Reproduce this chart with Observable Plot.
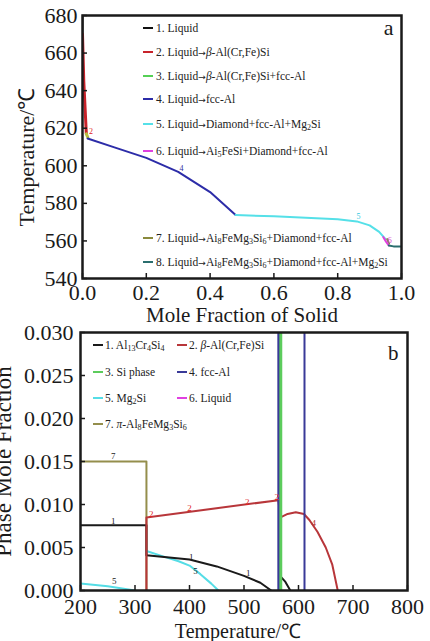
<!DOCTYPE html>
<html><head><meta charset="utf-8">
<script src="https://cdn.jsdelivr.net/npm/d3@7"></script>
<script src="https://cdn.jsdelivr.net/npm/@observablehq/plot@0.6"></script>
<style>
html,body{margin:0;padding:0;background:#fff;overflow:hidden;}
#wrap{position:relative;width:430px;height:641px;overflow:hidden;font-family:"Liberation Serif","Times New Roman",serif;color:#1a1a1a;}
#wrap svg{position:absolute;left:0;overflow:visible;background:transparent;}
.lg{position:absolute;font-size:11.5px;white-space:nowrap;line-height:12px;height:12px;color:#222;}
.sw{position:absolute;height:2px;width:10px;}
.ar{font-family:"DejaVu Sans",sans-serif;font-size:0.8em;}
sub{font-size:0.7em;vertical-align:-0.25em;line-height:0;}
</style></head>
<body><div id="wrap"></div>
<script>
// ---------- Panel a: Temperature (°C) vs mole fraction of solid ----------
const aLiquid      = [[0,680],[0,670]];
const aBeta        = [[0,670],[0.004,645],[0.012,617]];
const aBetaFcc     = [[0.012,617],[0.017,615]];
const aFcc         = [[0.016,614.5],[0.1,609.8],[0.2,604.2],[0.3,596.8],[0.4,586],[0.48,573.8]];
const aDiaMg2Si    = [[0.48,573.8],[0.6,573.1],[0.7,572.4],[0.8,571.5],[0.86,570.4],[0.9,568.3],[0.93,564.8],[0.95,561]];
const aAl5FeSi     = [[0.943,562],[0.952,559.5],[0.96,557.6]];
const aAl8FeDia    = [[0.955,561],[0.961,558.6]];
const aAl8FeDiaMg  = [[0.96,557.6],[0.975,557.1],[1.0,557]];
const aXTicks = [0,0.2,0.4,0.6,0.8,1.0];
const aYTicks = [540,560,580,600,620,640,660,680];
const aCurveLabels = [[0.027,618.5,"2","#e02020"],[0.31,598.5,"4","#3030a0"],[0.865,573.2,"5","#30c8e0"],[0.963,560.5,"6","#d040d0"]];
const ARROW = '<span class="ar">→</span>';
const aLegend = [
  "1. Liquid",
  "2. Liquid" + ARROW + "<i>β</i>-Al(Cr,Fe)Si",
  "3. Liquid" + ARROW + "<i>β</i>-Al(Cr,Fe)Si+fcc-Al",
  "4. Liquid" + ARROW + "fcc-Al",
  "5. Liquid" + ARROW + "Diamond+fcc-Al+Mg<sub>2</sub>Si",
  "6. Liquid" + ARROW + "Ai<sub>5</sub>FeSi+Diamond+fcc-Al",
  "7. Liquid" + ARROW + "Ai<sub>8</sub>FeMg<sub>3</sub>Si<sub>6</sub>+Diamond+fcc-Al",
  "8. Liquid" + ARROW + "Ai<sub>8</sub>FeMg<sub>3</sub>Si<sub>6</sub>+Diamond+fcc-Al+Mg<sub>2</sub>Si"
];
const aColors = ["#111111","#c8232b","#55d055","#2c2ca8","#55e0e8","#e040e0","#8a8a3c","#2a6e6e"];

// ---------- Panel b: Phase mole fraction vs temperature (°C) ----------
const bAl13Cr4Si4  = [[200,0.0076],[321,0.0076],[321,0.0041],[400,0.0036],[450,0.0028],[500,0.0017],[530,0.0009],[550,0]];
const bAl13Cr4Si4b = [[564,0],[569,0.0015],[576,0.001],[585,0]];
const bBeta        = [[321,0],[321,0.0085],[563,0.0105],[567,0.0085],[580,0.0089],[595,0.0091],[610,0.0089],[620,0.0082],[635,0.0068],[650,0.005],[662,0.003],[672,0]];
const bSi          = [[567,0],[567,0.05]];
const bFcc         = [[611,0],[611,0.05]];
const bFcc2        = [[563,0],[563,0.05]];
const bMg2Si       = [[200,0.0008],[250,0.0005],[300,0]];
const bMg2Sib      = [[321,0.0046],[350,0.004],[380,0.0034],[400,0.0029],[420,0.0019],[440,0.0008],[453,0]];
const bPi          = [[200,0.015],[321,0.015],[321,0]];
const bXTicks = [200,300,400,500,600,700,800];
const bYTicks = [0,0.005,0.010,0.015,0.020,0.025,0.030];
const bCurveLabels = [
  [260,0.0156,"7","#222222"],[260,0.0081,"1","#222222"],[330,0.0089,"2","#e02020"],[400,0.0096,"2","#e02020"],
  [506,0.0103,"2","#e02020"],[560,0.0109,"2","#e02020"],[403,0.0039,"1","#222222"],[411,0.0023,"5","#222222"],
  [508,0.0020,"1","#222222"],[262,0.0011,"5","#222222"],[628,0.0078,"4","#b03030"]
];
const bLegend = [
  "1. Al<sub>13</sub>Cr<sub>4</sub>Si<sub>4</sub>", "2. <i>β</i>-Al(Cr,Fe)Si",
  "3. Si phase", "4. fcc-Al",
  "5. Mg<sub>2</sub>Si", "6. Liquid",
  "7. <i>π</i>-Al<sub>8</sub>FeMg<sub>3</sub>Si<sub>6</sub>"
];
const bColors = ["#1a1a1a","#b8363a","#5ccc5c","#3a3a98","#55dde6","#e040e0","#948e4c"];

const FONT = '"Liberation Serif", "Times New Roman", serif';
const wrap = document.getElementById("wrap");
const L = (data, stroke, w=2) => Plot.line(data, {x: d=>d[0], y: d=>d[1], stroke, strokeWidth: w, clip: true});

// ---------- Plot a ----------
const aM = {top:15, bottom:42, left:82, right:29};
const aW = 430, aH = 320;
const aInnerW = aW - aM.left - aM.right, aInnerH = aH - aM.top - aM.bottom;
const plotA = Plot.plot({
  width: aW, height: aH,
  marginTop: aM.top, marginBottom: aM.bottom, marginLeft: aM.left, marginRight: aM.right,
  style: {fontFamily: FONT, background: "transparent", color: "#1a1a1a"},
  x: {domain: [0,1]}, y: {domain: [540,680]}, color: {type: "identity"},
  marks: [
    L(aLiquid, aColors[0]),
    L(aBeta, aColors[1], 3),
    L(aBetaFcc, "#b8c040", 3),
    L(aFcc, aColors[3]),
    L(aDiaMg2Si, aColors[4]),
    L(aAl8FeDia, aColors[6]),
    L(aAl5FeSi, aColors[5]),
    L(aAl8FeDiaMg, aColors[7]),
    Plot.text(aCurveLabels, {x: d=>d[0], y: d=>d[1], text: d=>d[2], fill: d=>d[3], fontSize: 8}),
    Plot.tickX(aXTicks, {x: d=>d, insetTop: aInnerH - 5, stroke: "#1a1a1a", strokeWidth: 1.5}),
    Plot.tickY(aYTicks, {y: d=>d, insetRight: aInnerW - 5, stroke: "#1a1a1a", strokeWidth: 1.5}),
    Plot.axisX({ticks: aXTicks, tickSize: 0, tickPadding: 6, fontSize: 22, tickFormat: d3.format(".1f"), label: null}),
    Plot.axisY({ticks: aYTicks, tickSize: 0, tickPadding: 5, fontSize: 22, label: null}),
    Plot.frame({stroke: "#1a1a1a", strokeWidth: 2.5}),
    Plot.text(["Mole Fraction of Solid"], {frameAnchor: "bottom", dy: 29, lineAnchor: "top", textAnchor: "middle", fontSize: 21, text: d=>d}),
    Plot.text(["Temperature/℃"], {frameAnchor: "left", dx: -56, dy: 10, rotate: -90, textAnchor: "middle", fontSize: 22, text: d=>d}),
    Plot.text(["a"], {frameAnchor: "top-right", dx: -8, dy: 4, lineAnchor: "top", textAnchor: "end", fontSize: 22, text: d=>d})
  ]
});
plotA.style.top = "0px";
wrap.appendChild(plotA);

// ---------- Plot b ----------
const bTop = 320;
const bM = {top:12, bottom:51, left:80, right:23};
const bW = 430, bH = 321;
const bInnerW = bW - bM.left - bM.right, bInnerH = bH - bM.top - bM.bottom;
const plotB = Plot.plot({
  width: bW, height: bH,
  marginTop: bM.top, marginBottom: bM.bottom, marginLeft: bM.left, marginRight: bM.right,
  style: {fontFamily: FONT, background: "transparent", color: "#1a1a1a"},
  x: {domain: [200,800]}, y: {domain: [0,0.03]}, color: {type: "identity"},
  marks: [
    L(bPi, bColors[6]),
    L(bMg2Si, bColors[4]),
    L(bMg2Sib, bColors[4]),
    L(bAl13Cr4Si4, bColors[0]),
    L(bAl13Cr4Si4b, bColors[0]),
    L(bBeta, bColors[1]),
    L(bSi, bColors[2], 3.5),
    L(bFcc2, bColors[3]),
    L(bFcc, bColors[3]),
    Plot.text(bCurveLabels, {x: d=>d[0], y: d=>d[1], text: d=>d[2], fill: d=>d[3], fontSize: 9}),
    Plot.tickX(bXTicks, {x: d=>d, insetTop: bInnerH - 5, stroke: "#1a1a1a", strokeWidth: 1.5}),
    Plot.tickY(bYTicks, {y: d=>d, insetRight: bInnerW - 5, stroke: "#1a1a1a", strokeWidth: 1.5}),
    Plot.axisX({ticks: bXTicks, tickSize: 0, tickPadding: 8, fontSize: 22, label: null}),
    Plot.axisY({ticks: bYTicks, tickSize: 0, tickPadding: 7, fontSize: 22, tickFormat: d3.format(".3f"), label: null}),
    Plot.frame({stroke: "#1a1a1a", strokeWidth: 2.5}),
    Plot.text(["Temperature/℃"], {frameAnchor: "bottom", dx: -6, dy: 33, lineAnchor: "top", textAnchor: "middle", fontSize: 20, text: d=>d}),
    Plot.text(["Phase Mole Fraction"], {frameAnchor: "left", dx: -77, dy: 0, rotate: -90, textAnchor: "middle", fontSize: 23, text: d=>d}),
    Plot.text(["b"], {frameAnchor: "top-right", dx: -9, dy: 13, lineAnchor: "top", textAnchor: "end", fontSize: 21, text: d=>d})
  ]
});
plotB.style.top = bTop + "px";
wrap.appendChild(plotB);

// ---------- Legends (HTML overlays) ----------
function legendItem(html, color, swX, textX, cy) {
  const sw = document.createElement("div");
  sw.className = "sw";
  sw.style.left = swX + "px"; sw.style.top = (cy - 1) + "px"; sw.style.background = color;
  wrap.appendChild(sw);
  const t = document.createElement("div");
  t.className = "lg";
  t.style.left = textX + "px"; t.style.top = (cy - 6) + "px";
  t.innerHTML = html;
  wrap.appendChild(t);
}
const aRowY = [28,52,76,99,124,151,238,262];
aLegend.forEach((h,i) => legendItem(h, aColors[i], 143, 156, aRowY[i]));
const bRowY = [345,372,398,424];
const bColX = [[93,105],[177,189]];
bLegend.forEach((h,i) => {
  const r = Math.floor(i/2), c = i % 2;
  legendItem(h, bColors[i], bColX[c][0], bColX[c][1], bRowY[r]);
});
</script>
</body></html>
